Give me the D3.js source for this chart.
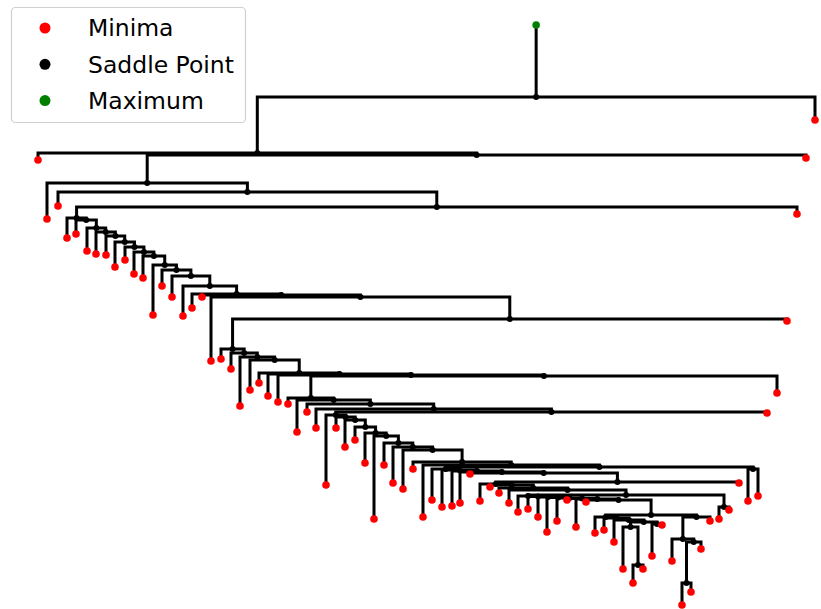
<!DOCTYPE html>
<html><head><meta charset="utf-8">
<script src="https://cdn.jsdelivr.net/npm/d3@7"></script>
<style>html,body{margin:0;padding:0;background:#fff;}svg{display:block;}</style>
</head><body><svg id="chart" width="821" height="609"></svg>
<script>
// Minima: [id, position, energy]
const minima = [
["m0",81.5,49.0],["m1",3.8,45.0],["m2",80.6,45.2],["m3",4.7,39.1],["m4",5.8,40.4],["m5",79.7,39.6],
["m6",6.7,37.2],["m7",7.6,37.6],["m8",8.7,35.9],["m9",9.6,35.6],["m10",10.6,35.5],["m11",11.5,34.3],
["m12",12.5,35.0],["m13",13.4,33.6],["m14",14.3,33.2],["m15",15.3,29.5],["m16",16.2,32.4],["m17",17.2,31.3],
["m18",18.3,29.4],["m19",19.2,30.2],["m20",20.2,31.3],["m21",21.1,24.9],["m22",78.7,28.9],["m23",22.1,25.1],
["m24",23.1,24.1],["m25",24.0,20.4],["m26",25.0,22.0],["m27",25.9,22.7],["m28",26.8,21.4],["m29",27.8,20.8],
["m30",77.7,21.7],["m31",28.8,20.6],["m32",29.7,17.8],["m33",30.7,19.8],["m34",31.6,18.2],["m35",76.7,19.7],
["m36",32.6,12.5],["m37",33.6,18.2],["m38",34.5,16.3],["m39",35.5,17.0],["m40",36.5,14.7],["m41",37.4,9.1],
["m42",38.4,14.5],["m43",39.3,12.7],["m44",40.3,12.1],["m45",41.3,14.1],["m46",42.3,9.3],["m47",74.8,10.9],
["m48",75.8,11.4],["m49",43.2,11.0],["m50",44.2,10.3],["m51",45.2,10.4],["m52",46.0,10.7],["m53",47.0,13.6],
["m54",73.9,12.7],["m55",48.0,10.9],["m56",49.0,12.3],["m57",49.9,11.7],["m58",50.9,10.7],["m59",71.9,9.1],
["m60",72.9,10.0],["m61",51.8,9.8],["m62",52.8,10.1],["m63",53.8,9.3],["m64",54.7,7.8],["m65",55.7,8.9],
["m66",56.7,11.0],["m67",57.6,8.3],["m68",58.6,10.8],["m69",59.5,7.7],["m70",60.4,8.0],["m71",61.4,6.8],
["m72",62.3,4.1],["m73",63.3,2.7],["m74",64.3,4.1],["m75",65.2,5.4],["m76",66.2,8.5],["m77",67.2,4.9],
["m78",68.2,0.5],["m79",69.1,1.8],["m80",70.1,6.1],["m81",71.0,8.9]
];
// Saddle points: [id, child A, child B, energy]
const saddles = [
["S0","N1","m0",51.3],["N1","m1","N2",45.7],["N2","N3","m2",45.5],["N3","m3","N4",42.7],
["N4","m4","N5",41.8],["N5","N6","m5",40.3],["N6","m6","D",39.2],["D","m7","E",39.0],
["E","m8","F",38.2],["F","m9","G",37.8],["G","m10","H1",37.4],["H1","m11","H2",36.8],
["H2","m12","H3",36.3],["H3","m13","H4",35.8],["H4","m14","H5",35.4],["H5","m15","H6",34.5],
["H6","m16","H7",34.0],["H7","m17","U",33.4],["U","m18","T",32.4],["T","m19","R",31.6],
["R","m20","P",31.5],["P","m21","Q",31.3],["Q","K1","m22",29.1],["K1","m23","V",26.1],
["V","m24","W",25.7],["W","m25","X",25.3],["X","m26","Y",25.0],["Y","m27","AD",23.7],
["AD","m28","AC",23.6],["AC","m29","AB",23.5],["AB","AF","m30",23.4],["AF","m31","AG",21.2],
["AG","m32","AH",21.0],["AH","m33","AI",20.6],["AI","m34","AE",20.1],["AE","AJ","m35",19.8],
["AJ","m36","AK",19.5],["AK","m37","AL",19.3],["AL","m38","AM",19.0],["AM","m39","AN",18.3],
["AN","m40","AO",17.7],["AO","m41","AP",17.4],["AP","m42","AQ",16.7],["AQ","m43","AR",16.3],
["AR","m44","AS",16.0],["AS","m45","AT",14.8],["AT","m46","AU",14.5],["AU","AV","Z1",14.3],
["Z1","m47","m48",14.1],["AV","m49","AX",14.1],["AX","m50","AY",14.0],["AY","m51","AZ",13.9],
["AZ","m52","BA",13.8],["BA","m53","BB",13.7],["BB","BC","m54",12.8],["BC","m55","BD",12.6],
["BD","m56","BE",12.5],["BE","m57","BF",12.2],["BF","m58","BG",12.0],["BG","BH","C0",11.5],
["C0","m59","m60",10.3],["BH","m61","BI",11.4],["BI","m62","BJ",11.35],["BJ","m63","BK",11.3],
["BK","m64","BL",11.25],["BL","m65","BM",11.2],["BM","m66","BN",11.15],["BN","m67","BO",11.1],
["BO","m68","BP",11.0],["BP","BQ","C4",9.5],["BQ","m69","BR",9.3],["BR","m70","BS",9.2],
["BS","m71","BT",9.0],["BT","BU","BV",8.8],["BU","m72","BW",8.3],["BW","m73","m74",4.5],
["BV","m75","m76",8.6],["C4","C3","m81",9.3],["C3","m77","C2",7.1],["C2","C1","m80",6.8],
["C1","m78","m79",2.7]
];
// Maximum: sits above this saddle, at this energy
const maximum = ["S0", 58.5];
const legendLabels = ["Minima", "Saddle Point", "Maximum"];
const legendColors = ["#ff0000", "#000000", "#008000"];

const W = 821, H = 609;
const x = d3.scaleLinear().domain([0, 82.1]).range([0, 821]);
const y = d3.scaleLinear().domain([0, 61]).range([610, 0]);

const nodes = new Map();
minima.forEach(([id, p, e]) => nodes.set(id, {id, type: "min", p, e}));
saddles.forEach(([id, a, b, e]) => nodes.set(id, {id, type: "saddle", a, b, e}));
function pos(id) {
  const n = nodes.get(id);
  if (n.p === undefined) n.p = (pos(n.a) + pos(n.b)) / 2;
  return n.p;
}
saddles.forEach(s => pos(s[0]));

const svg = d3.select("#chart");
svg.append("rect").attr("width", W).attr("height", H).attr("fill", "#fff");

const gLines = svg.append("g").attr("fill", "none").attr("stroke", "#000")
  .attr("stroke-width", 3).attr("stroke-linejoin", "miter").attr("stroke-linecap", "butt");
saddles.forEach(([id, a, b, e]) => {
  const na = nodes.get(a), nb = nodes.get(b);
  const p = d3.path();
  p.moveTo(x(na.p), y(na.e));
  p.lineTo(x(na.p), y(e));
  p.lineTo(x(nb.p), y(e));
  p.lineTo(x(nb.p), y(nb.e));
  gLines.append("path").attr("d", p.toString());
});
const rootNode = nodes.get(maximum[0]);
gLines.append("line").attr("x1", x(rootNode.p)).attr("x2", x(rootNode.p))
  .attr("y1", y(maximum[1])).attr("y2", y(rootNode.e));

svg.append("g").selectAll("circle").data(saddles).join("circle")
  .attr("cx", d => x(nodes.get(d[0]).p)).attr("cy", d => y(d[3])).attr("r", 3)
  .attr("fill", legendColors[1]);
svg.append("g").selectAll("circle").data(minima).join("circle")
  .attr("cx", d => x(d[1])).attr("cy", d => y(d[2])).attr("r", 3.8)
  .attr("fill", legendColors[0]);
svg.append("circle").attr("cx", x(rootNode.p)).attr("cy", y(maximum[1])).attr("r", 3.8)
  .attr("fill", legendColors[2]);

// Legend
const lg = svg.append("g");
lg.append("rect").attr("x", 11.5).attr("y", 7.5).attr("width", 234).attr("height", 115)
  .attr("rx", 4).attr("fill", "#fff").attr("fill-opacity", 0.85).attr("stroke", "#d0d0d0").attr("stroke-width", 1.2);
legendLabels.forEach((t, i) => {
  const cy = 28 + i * 36.3;
  lg.append("circle").attr("cx", 45).attr("cy", cy).attr("r", 5.5).attr("fill", legendColors[i]);
  lg.append("text").attr("x", 88).attr("y", cy + 8.3).text(t)
    .attr("font-family", "DejaVu Sans").attr("font-size", 23.5).attr("fill", "#000");
});
</script></body></html>
